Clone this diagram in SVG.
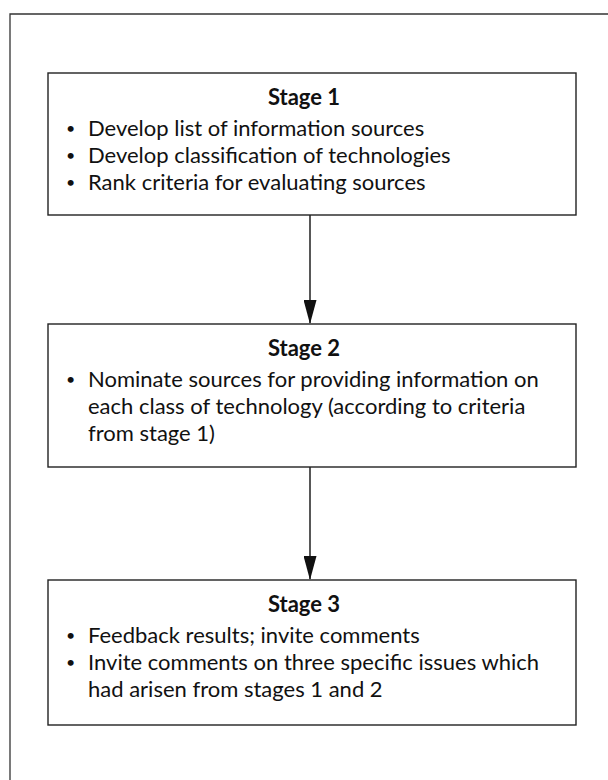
<svg xmlns="http://www.w3.org/2000/svg" width="608" height="780" viewBox="0 0 608 780">
<style>
.box{fill:#fff;stroke:#222;stroke-width:1.4}
.t{font-family:Lato,"Liberation Sans",sans-serif;font-size:22px;fill:#111}
.h{font-weight:bold;text-anchor:middle}
.b{font-size:16px}
.frame{fill:none;stroke:#333;stroke-width:1.3}
.conn{stroke:#111;stroke-width:1.4;fill:none}
</style>
<defs>
<marker id="ah" markerWidth="24" markerHeight="13" refX="23" refY="6.5" orient="auto" markerUnits="userSpaceOnUse" viewBox="0 0 24 13">
<path d="M0,0 L24,6.5 L0,13 Z" fill="#111"/>
</marker>
</defs>
<rect width="608" height="780" fill="#fff"/>
<path class="frame" d="M10,780 V14 H610"/>
<g id="connectors">
<line class="conn" x1="310" y1="215" x2="310" y2="323" marker-end="url(#ah)"/>
<line class="conn" x1="310" y1="467" x2="310" y2="579" marker-end="url(#ah)"/>
</g>
<g id="stage1">
<rect class="box" x="48" y="73" width="528" height="142"/>
<text class="t h" x="304" y="105">Stage 1</text>
<text class="t b" x="66" y="134">•</text><text class="t" x="88" y="136">Develop list of information sources</text>
<text class="t b" x="66" y="161">•</text><text class="t" x="88" y="163">Develop classification of technologies</text>
<text class="t b" x="66" y="188">•</text><text class="t" x="88" y="190">Rank criteria for evaluating sources</text>
</g>
<g id="stage2">
<rect class="box" x="48" y="324" width="528" height="143"/>
<text class="t h" x="304" y="356">Stage 2</text>
<text class="t b" x="66" y="385">•</text><text class="t" x="88" y="387">Nominate sources for providing information on</text>
<text class="t" x="88" y="414">each class of technology (according to criteria</text>
<text class="t" x="88" y="441">from stage 1)</text>
</g>
<g id="stage3">
<rect class="box" x="48" y="580" width="528" height="145"/>
<text class="t h" x="304" y="612">Stage 3</text>
<text class="t b" x="66" y="641">•</text><text class="t" x="88" y="643">Feedback results; invite comments</text>
<text class="t b" x="66" y="668">•</text><text class="t" x="88" y="670">Invite comments on three specific issues which</text>
<text class="t" x="88" y="697">had arisen from stages 1 and 2</text>
</g>
</svg>
